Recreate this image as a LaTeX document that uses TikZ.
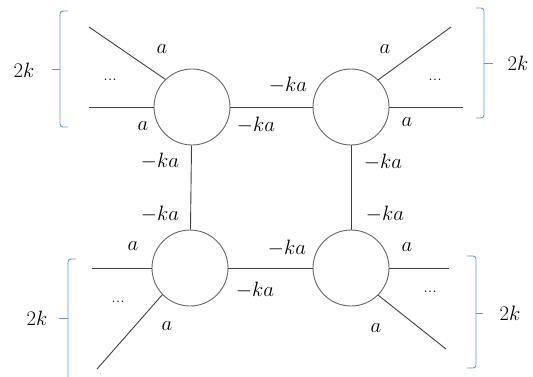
\documentclass[tikz,border=0pt]{standalone}
\definecolor{bracecol}{RGB}{91,155,213}
\begin{document}
\begin{tikzpicture}[x=1pt,y=-1pt,
  vertex/.style={circle,draw=black!60,line width=0.9pt,minimum size=76pt,inner sep=0pt},
  leg/.style={draw=black!75,line width=0.9pt},
  brace/.style={draw=bracecol,line width=0.9pt,rounded corners=3pt},
  lab/.style={inner sep=0pt,font=\fontsize{22}{24}\selectfont},
  dots/.style={inner sep=0pt,font=\fontsize{18}{20}\selectfont}]
\useasboundingbox (0,0) rectangle (533,376);
% vertices
\node[vertex] (tl) at (192,107) {};
\node[vertex] (tr) at (351,107) {};
\node[vertex] (bl) at (190,268) {};
\node[vertex] (br) at (351,268) {};
% free ends
\coordinate (tlA) at (89,27);
\coordinate (tlB) at (89,107);
\coordinate (trA) at (451,27);
\coordinate (trB) at (463,107);
\coordinate (blA) at (92,268);
\coordinate (blB) at (97,369);
\coordinate (brA) at (449,268);
\coordinate (brB) at (446,349);
% legs
\draw[leg] (tl.134) -- (tlA);
\draw[leg] (tl.west) -- (tlB);
\draw[leg] (tr.45) -- (trA);
\draw[leg] (tr.east) -- (trB);
\draw[leg] (bl.west) -- (blA);
\draw[leg] (bl.224) -- (blB);
\draw[leg] (br.east) -- (brA);
\draw[leg] (br.315) -- (brB);
% internal edges
\draw[leg] (tl) -- (tr);
\draw[leg] (bl) -- (br);
\draw[leg] (tl) -- (bl);
\draw[leg] (tr) -- (br);
% braces
\draw[brace] (68,11) -- (60,11) -- (60,127) -- (68,127);
\draw[brace] (60,69) -- (52,69);
\draw[brace] (476,8) -- (484,8) -- (484,118) -- (476,118);
\draw[brace] (484,63) -- (493,63);
\draw[brace] (76,259) -- (68,259) -- (68,380);
\draw[brace] (68,318) -- (59,318);
\draw[brace] (467,256) -- (476,256) -- (476,368) -- (467,368);
\draw[brace] (476,313) -- (483,313);
% brace labels
\node[lab] (k1) at (24,70) {$2k$};
\node[lab] (k2) at (518,63) {$2k$};
\node[lab] (k3) at (37,318) {$2k$};
\node[lab] (k4) at (510,313) {$2k$};
% top-left labels
\node[lab] (l1) at (162,49) {$a$};
\node[dots] (d1) at (110,80) {...};
\node[lab] (l2) at (143,126) {$a$};
\node[lab] (l3) at (160,161) {$-ka$};
% top middle
\node[lab] (l4) at (288,85) {$-ka$};
\node[lab] (l5) at (256,125) {$-ka$};
% top-right
\node[lab] (l6) at (385,49) {$a$};
\node[dots] (d2) at (435,80) {...};
\node[lab] (l7) at (407,122) {$a$};
\node[lab] (l8) at (383,162) {$-ka$};
% bottom-left
\node[lab] (l9) at (160,214) {$-ka$};
\node[lab] (l10) at (133,246) {$a$};
\node[dots] (d3) at (118,302) {...};
\node[lab] (l11) at (167,326) {$a$};
% bottom middle
\node[lab] (l12) at (287,248) {$-ka$};
\node[lab] (l13) at (255,290) {$-ka$};
% bottom-right
\node[lab] (l14) at (385,214) {$-ka$};
\node[lab] (l15) at (407,247) {$a$};
\node[dots] (d4) at (430,292) {...};
\node[lab] (l16) at (376,328) {$a$};
\end{tikzpicture}
\end{document}
